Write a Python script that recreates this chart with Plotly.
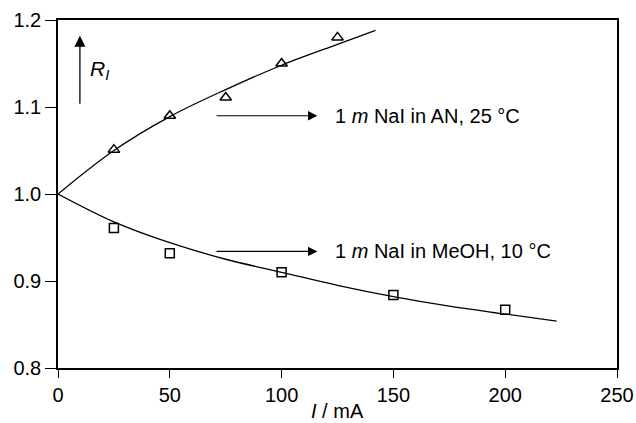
import plotly.graph_objects as go

# Measured R_I ratios
an_current = [25, 50, 75, 100, 125]
an_ratio = [1.051, 1.090, 1.111, 1.150, 1.180]
meoh_current = [25, 50, 100, 150, 200]
meoh_ratio = [0.961, 0.932, 0.910, 0.884, 0.867]

# Fitted curves (smoothed through the listed points)
an_fit_current = [0, 25, 50, 75, 100, 125, 142]
an_fit_ratio = [1.000, 1.050, 1.089, 1.120, 1.148, 1.172, 1.188]
meoh_fit_current = [0, 25, 50, 75, 100, 125, 150, 175, 200, 223]
meoh_fit_ratio = [1.000, 0.968, 0.944, 0.925, 0.910, 0.895, 0.882, 0.871, 0.862, 0.854]

x_ticks = [0, 50, 100, 150, 200, 250]
y_ticks = [0.8, 0.9, 1.0, 1.1, 1.2]
y_tick_text = ["0.8", "0.9", "1.0", "1.1", "1.2"]

FONT = "Liberation Sans, Arial, Helvetica, sans-serif"
FS = 20

fig = go.Figure()
fig.add_trace(go.Scatter(x=an_fit_current, y=an_fit_ratio, mode="lines",
                         line=dict(color="black", width=1.3, shape="spline"),
                         showlegend=False, hoverinfo="skip"))
fig.add_trace(go.Scatter(x=meoh_fit_current, y=meoh_fit_ratio, mode="lines",
                         line=dict(color="black", width=1.3, shape="spline"),
                         showlegend=False, hoverinfo="skip"))
fig.add_trace(go.Scatter(x=an_current, y=an_ratio, mode="markers",
                         marker=dict(symbol="triangle-up-open", size=10, color="black",
                                     line=dict(width=1.5, color="black")),
                         showlegend=False))
fig.add_trace(go.Scatter(x=meoh_current, y=meoh_ratio, mode="markers",
                         marker=dict(symbol="square-open", size=9, color="black",
                                     line=dict(width=1.5, color="black")),
                         showlegend=False))

annotations = [
    # series labels with pointer arrows
    dict(x=116, y=1.090, ax=70, ay=1.090, xref="x", yref="y", axref="x", ayref="y",
         text=" ", showarrow=True, arrowhead=2, arrowsize=1.7, arrowwidth=1.1,
         arrowcolor="black", font=dict(size=2)),
    dict(x=123, y=1.090, xref="x", yref="y", xanchor="left", yanchor="middle",
         text="1 <i>m</i> NaI in AN, 25 °C", showarrow=False,
         font=dict(family=FONT, size=FS, color="black")),
    dict(x=116, y=0.934, ax=70, ay=0.934, xref="x", yref="y", axref="x", ayref="y",
         text=" ", showarrow=True, arrowhead=2, arrowsize=1.7, arrowwidth=1.1,
         arrowcolor="black", font=dict(size=2)),
    dict(x=123, y=0.934, xref="x", yref="y", xanchor="left", yanchor="middle",
         text="1 <i>m</i> NaI in MeOH, 10 °C", showarrow=False,
         font=dict(family=FONT, size=FS, color="black")),
    # y-axis quantity with upward arrow
    dict(x=9.8, y=1.182, ax=9.8, ay=1.101, xref="x", yref="y", axref="x", ayref="y",
         text=" ", showarrow=True, arrowhead=2, arrowsize=1.7, arrowwidth=1.3,
         arrowcolor="black", font=dict(size=2)),
    dict(x=13.5, y=1.142, xref="x", yref="y", xanchor="left", yanchor="middle",
         text="<i>R</i><sub><i>I</i></sub>", showarrow=False,
         font=dict(family=FONT, size=21, color="black")),
    # x-axis title
    dict(x=0.5, y=-0.085, xref="paper", yref="paper", xanchor="center", yanchor="top",
         text="<i>I</i> / mA", showarrow=False,
         font=dict(family=FONT, size=FS, color="black")),
]

fig.update_layout(
    width=636, height=423,
    margin=dict(l=58, r=19, t=20, b=55),
    paper_bgcolor="white", plot_bgcolor="white",
    font=dict(family=FONT, size=FS, color="black"),
    annotations=annotations,
    xaxis=dict(range=[0, 250], tickvals=x_ticks, ticks="outside", ticklen=8,
               tickwidth=1.3, tickcolor="black", showline=True, linewidth=1.6,
               linecolor="black", mirror=True, showgrid=False, zeroline=False,
               automargin=False, tickfont=dict(family=FONT, size=FS)),
    yaxis=dict(range=[0.8, 1.2], tickvals=y_ticks, ticktext=y_tick_text,
               ticks="outside", ticklen=11, tickwidth=1.3, tickcolor="black",
               showline=True, linewidth=1.6, linecolor="black", mirror=True,
               showgrid=False, zeroline=False, automargin=False,
               tickfont=dict(family=FONT, size=FS)),
)

fig.write_html("out.html")
